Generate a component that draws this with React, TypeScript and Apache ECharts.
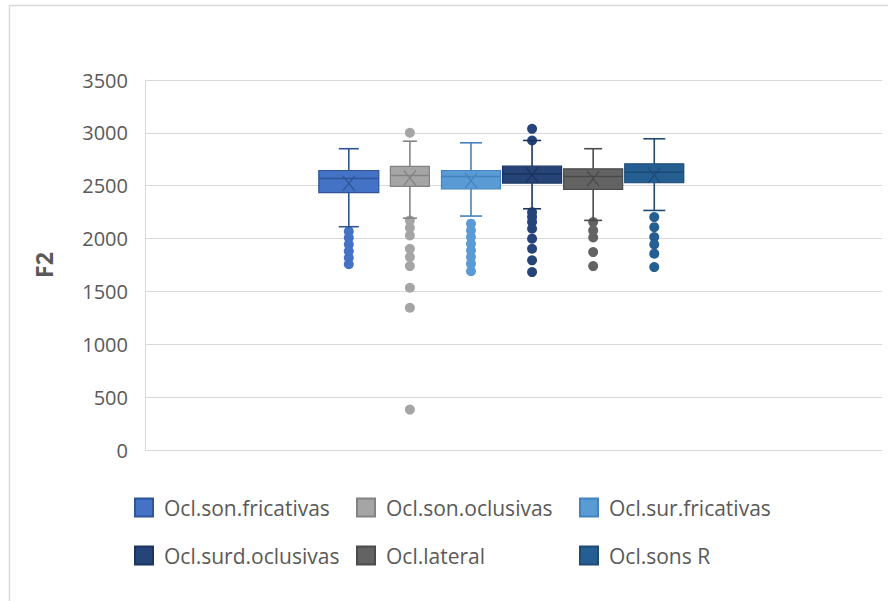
import React, { useEffect, useRef } from "react";
import * as echarts from "echarts";

// ---- data ----
const seriesNames = [
  "Ocl.son.fricativas",
  "Ocl.son.oclusivas",
  "Ocl.sur.fricativas",
  "Ocl.surd.oclusivas",
  "Ocl.lateral",
  "Ocl.sons R",
];
const lowerWhisker = [2112, 2193, 2213, 2282, 2172, 2266];
const quartile1 = [2434, 2493, 2471, 2525, 2465, 2528];
const medians = [2569, 2597, 2588, 2610, 2588, 2628];
const quartile3 = [2644, 2682, 2644, 2685, 2660, 2708];
const upperWhisker = [2850, 2921, 2906, 2928, 2850, 2944];
const means = [2522, 2575, 2548, 2604, 2566, 2597];
const outliers1 = [2068, 2008, 1945, 1881, 1819, 1757];
const outliers2 = [3001, 2172, 2103, 2030, 1904, 1825, 1740, 1535, 1346, 382];
const outliers3 = [2141, 2077, 2014, 1951, 1888, 1825, 1762, 1692];
const outliers4 = [3038, 2928, 2250, 2203, 2156, 2093, 1999, 1904, 1794, 1683];
const outliers5 = [2156, 2077, 2010, 1872, 1740];
const outliers6 = [2203, 2108, 2014, 1945, 1857, 1730];
const outlierLists = [outliers1, outliers2, outliers3, outliers4, outliers5, outliers6];
const yMin = 0;
const yMax = 3500;
const yInterval = 500;
const yAxisName = "F2";

// ---- styles ----
const fills = ["#4472C4", "#A5A5A5", "#5B9BD5", "#264478", "#636363", "#255E91"];
const strokes = ["#2F5597", "#838383", "#4283C0", "#1C3461", "#4B4B4B", "#1D4B75"];
const boxWidths = [60, 39, 59, 59, 59, 59];
const capWidths = [20, 14, 22, 18, 18, 22];
const FONT = "'Open Sans', 'Noto Sans', sans-serif";
const TEXT = "#595959";

export default function App() {
  const ref = useRef<HTMLDivElement>(null);
  useEffect(() => {
    if (!ref.current) return;
    const chart = echarts.init(ref.current, undefined, { renderer: "svg" });

    const boxSeries = seriesNames.map((name, i) => ({
      type: "custom",
      name,
      coordinateSystem: "cartesian2d",
      itemStyle: { color: fills[i], borderColor: strokes[i], borderWidth: 1 },
      encode: { x: 0, y: [1, 2, 3, 4, 5, 6] },
      data: [[i, lowerWhisker[i], quartile1[i], medians[i], quartile3[i], upperWhisker[i], means[i]]],
      z: 3,
      renderItem: (params: any, api: any) => {
        const x = api.value(0);
        const lo = api.coord([x, api.value(1)]);
        const q1 = api.coord([x, api.value(2)]);
        const md = api.coord([x, api.value(3)]);
        const q3 = api.coord([x, api.value(4)]);
        const hi = api.coord([x, api.value(5)]);
        const mn = api.coord([x, api.value(6)]);
        const cx = lo[0];
        const w = boxWidths[i];
        const cw = capWidths[i] / 2;
        const lineStyle = { stroke: strokes[i], lineWidth: 1.6 };
        const xs = 6;
        const ys = 7.5;
        return {
          type: "group",
          children: [
            { type: "line", shape: { x1: cx, y1: lo[1], x2: cx, y2: q1[1] }, style: lineStyle },
            { type: "line", shape: { x1: cx, y1: q3[1], x2: cx, y2: hi[1] }, style: lineStyle },
            { type: "line", shape: { x1: cx - cw, y1: lo[1], x2: cx + cw, y2: lo[1] }, style: lineStyle },
            { type: "line", shape: { x1: cx - cw, y1: hi[1], x2: cx + cw, y2: hi[1] }, style: lineStyle },
            {
              type: "rect",
              shape: { x: cx - w / 2, y: q3[1], width: w, height: q1[1] - q3[1] },
              style: { fill: fills[i], stroke: strokes[i], lineWidth: 1.2 },
            },
            { type: "line", shape: { x1: cx - w / 2, y1: md[1], x2: cx + w / 2, y2: md[1] }, style: { stroke: strokes[i], lineWidth: 1.5 } },
            { type: "line", shape: { x1: cx - xs, y1: mn[1] - ys, x2: cx + xs, y2: mn[1] + ys }, style: { stroke: strokes[i], lineWidth: 1.3 } },
            { type: "line", shape: { x1: cx + xs, y1: mn[1] - ys, x2: cx - xs, y2: mn[1] + ys }, style: { stroke: strokes[i], lineWidth: 1.3 } },
          ],
        };
      },
    }));

    const outlierSeries = seriesNames.map((name, i) => ({
      type: "scatter",
      name,
      symbol: "circle",
      symbolSize: 10,
      itemStyle: { color: fills[i], opacity: 1 },
      data: outlierLists[i].map((v) => [i, v]),
      z: 2,
    }));

    const legendBase = {
      orient: "vertical",
      top: 497,
      padding: 0,
      itemWidth: 18,
      itemHeight: 18,
      itemGap: 27,
      icon: "rect",
      selectedMode: false,
      textStyle: { color: TEXT, fontSize: 21, fontFamily: FONT, padding: [0, 0, 0, 6], lineHeight: 18 },
    };

    chart.setOption({
      animation: false,
      backgroundColor: "#ffffff",
      graphic: [
        {
          type: "rect",
          shape: { x: 9.5, y: 5.5, width: 900, height: 620 },
          style: { fill: "none", stroke: "#d9d9d9", lineWidth: 1.5 },
          silent: true,
        },
      ],
      legend: [
        { ...legendBase, left: 134, data: [seriesNames[0], seriesNames[3]] },
        { ...legendBase, left: 356, data: [seriesNames[1], seriesNames[4]] },
        { ...legendBase, left: 579, data: [seriesNames[2], seriesNames[5]] },
      ],
      grid: { left: 145, right: 6, top: 80, bottom: 151, containLabel: false },
      xAxis: {
        type: "value",
        min: -3.336,
        max: 8.728,
        show: false,
        splitLine: { show: false },
      },
      yAxis: {
        type: "value",
        min: yMin,
        max: yMax,
        interval: yInterval,
        name: yAxisName,
        nameLocation: "middle",
        nameRotate: 90,
        nameGap: 90,
        nameTextStyle: { color: TEXT, fontSize: 23, fontWeight: "bold", fontFamily: FONT },
        axisLine: { show: true, onZero: false, lineStyle: { color: "#d9d9d9", width: 1 } },
        axisTick: { show: false },
        axisLabel: {
          color: TEXT,
          fontSize: 20,
          fontFamily: FONT,
          margin: 17,
          formatter: (v: number) => String(v),
        },
        splitLine: { show: true, lineStyle: { color: "#d9d9d9", width: 1.2 } },
      },
      series: [...boxSeries, ...outlierSeries],
    });
    return () => chart.dispose();
  }, []);
  return (
    <div
      ref={ref}
      style={{ position: "absolute", left: 0, top: 0, width: 888, height: 601, background: "#fff" }}
    />
  );
}
